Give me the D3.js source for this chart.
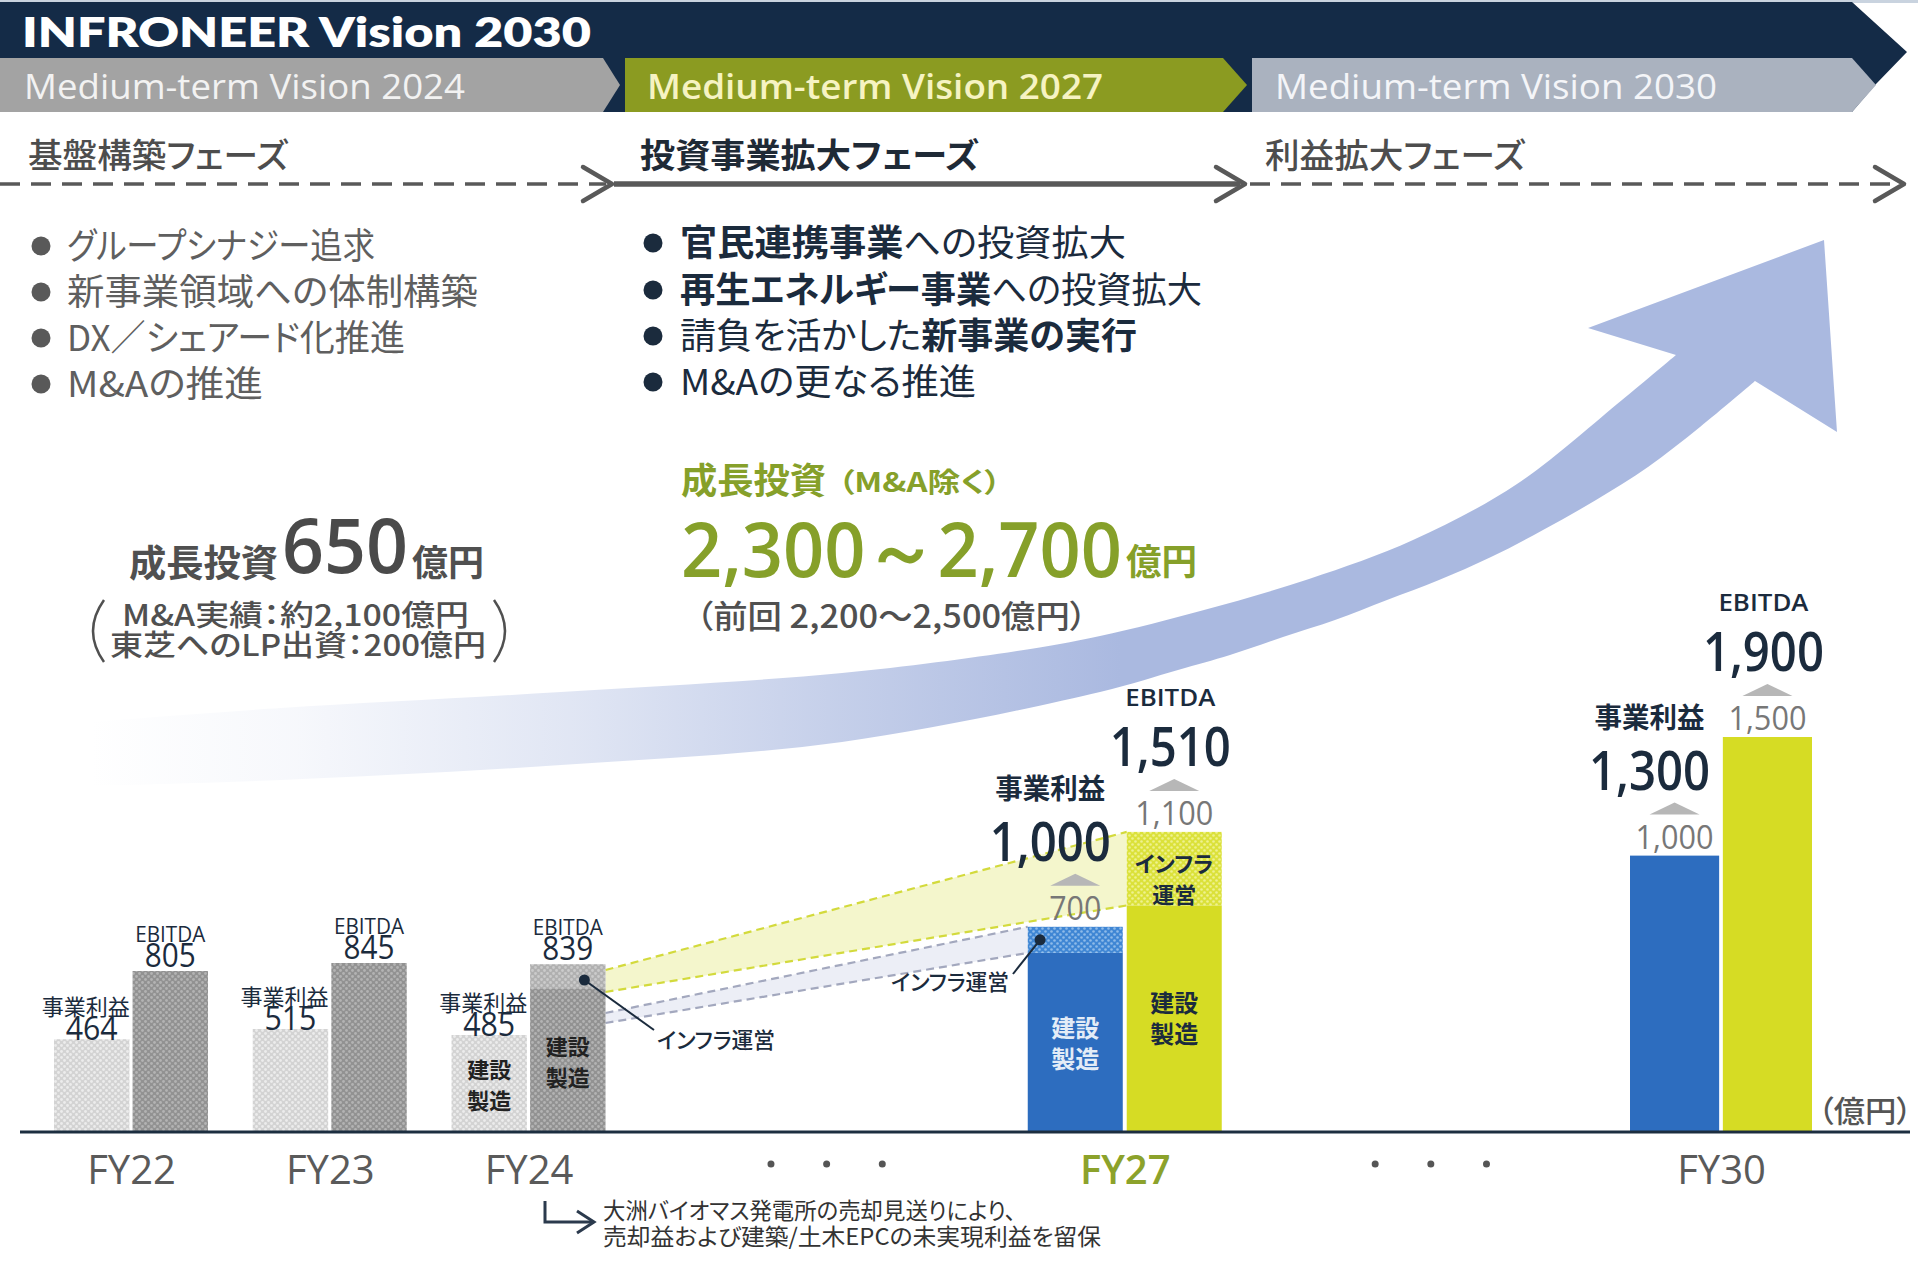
<!DOCTYPE html>
<html lang="ja">
<head>
<meta charset="utf-8">
<title>INFRONEER Vision 2030</title>
<script src="https://cdn.jsdelivr.net/npm/d3@7"></script>
<style>
  body { margin: 0; background: #fff; }
  svg { display: block; }
  .jp { font-family: "Noto Sans CJK JP", "Noto Sans", sans-serif; font-feature-settings: "palt"; }
  .num { font-family: "Open Sans", "Noto Sans", sans-serif; }
</style>
</head>
<body>
<div id="chart"></div>
<script>
// ---- data (億円) ----
var fiscalYears = [22, 23, 24, 27, 30];
var yearLabels = ["FY22", "FY23", "FY24", "FY27", "FY30"];
var isPlan = [false, false, false, true, true];
var opProfit = [464, 515, 485, 700, 1000];        // 事業利益
var ebitda = [805, 845, 839, 1100, 1500];         // EBITDA
var opInfra = [0, 0, 0, 110, 0];                  // インフラ運営 share (estimated)
var ebitdaInfra = [0, 0, 120, 310, 0];
var opTarget = [null, null, null, 1000, 1300];    // upgraded targets
var ebitdaTarget = [null, null, null, 1510, 1900];
var yellowBridge = [[700, 810], [790, 1100]];     // FY24 EBITDA -> FY27 EBITDA infra
var greyBridge = [[545, 595], [590, 700]];        // FY24 -> FY27 事業利益 infra
var ellipsisYears = [25.5, 28.54];

var visions = ["Medium-term Vision 2024", "Medium-term Vision 2027", "Medium-term Vision 2030"];
var phases = ["基盤構築フェーズ", "投資事業拡大フェーズ", "利益拡大フェーズ"];
var leftBullets = ["グループシナジー追求", "新事業領域への体制構築", "DX／シェアード化推進", "M&Aの推進"];
var rightBullets = [
  [["官民連携事業", 1], ["への投資拡大", 0]],
  [["再生エネルギー事業", 1], ["への投資拡大", 0]],
  [["請負を活かした", 0], ["新事業の実行", 1]],
  [["M&Aの更なる推進", 0]]
];

// ---- layout ----
var W = 1918, H = 1274, base = 1132;
var navy = "#142b47", ink = "#1b2b3d", green = "#86a02a";
var groupHalf = [77, 77, 77, 97, 91];   // half width of each bar pair

var svg = d3.select("#chart").append("svg").attr("width", W).attr("height", H);
var defs = svg.append("defs");

function dotPattern(id, bg, dot, size, r) {
  var p = defs.append("pattern").attr("id", id).attr("patternUnits", "userSpaceOnUse")
    .attr("width", size).attr("height", size);
  p.append("rect").attr("width", size).attr("height", size).attr("fill", bg);
  p.append("circle").attr("cx", size / 4).attr("cy", size / 4).attr("r", r).attr("fill", dot);
  p.append("circle").attr("cx", size * 3 / 4).attr("cy", size * 3 / 4).attr("r", r).attr("fill", dot);
}
dotPattern("patOp", "#d3d3d3", "#ececec", 6, 1.4);
dotPattern("patEb", "#929292", "#b3b3b3", 6, 1.4);
dotPattern("patEbInfraA", "#b0b0b0", "#cbcbcb", 6, 1.4);
dotPattern("patOpInfraP", "#3f86d4", "#8ebbe9", 6, 1.3);
dotPattern("patEbInfraP", "#dbe13a", "#eff28e", 6, 1.3);

var grad = defs.append("linearGradient").attr("id", "arrowGrad")
  .attr("gradientUnits", "userSpaceOnUse").attr("x1", 90).attr("x2", 1120).attr("y1", 0).attr("y2", 0);
[[0, 0], [0.2, 0.1], [0.47, 0.36], [0.74, 0.7], [1, 1]].forEach(function(s) {
  grad.append("stop").attr("offset", s[0]).attr("stop-color", "#aab9e0").attr("stop-opacity", s[1]);
});

function label(g, x, y, s, o) {
  o = o || {};
  var t = g.append("text").attr("x", x).attr("y", y)
    .attr("class", o.cls || "jp")
    .attr("font-size", o.size || 24)
    .attr("font-weight", o.weight || 400)
    .attr("fill", o.fill || ink)
    .attr("text-anchor", o.anchor || "start")
    .text(s);
  if (o.len) t.attr("textLength", o.len).attr("lengthAdjust", "spacingAndGlyphs");
  if (o.central) t.attr("dominant-baseline", "central");
  return t;
}

// several stacked lines kept in one text element
function block(g, lines, o) {
  o = o || {};
  var t = g.append("text").attr("class", o.cls || "jp").attr("text-anchor", o.anchor || "start")
    .attr("fill", o.fill || ink).attr("font-size", o.size || 24).attr("font-weight", o.weight || 400);
  lines.forEach(function(l) {
    var sp = t.append("tspan").attr("x", l.x).attr("y", l.y);
    if (l.size) sp.attr("font-size", l.size);
    if (l.weight) sp.attr("font-weight", l.weight);
    if (l.cls) sp.attr("class", l.cls);
    if (l.fill) sp.attr("fill", l.fill);
    if (l.len) sp.attr("textLength", l.len).attr("lengthAdjust", "spacingAndGlyphs");
    if (l.parts) l.parts.forEach(function(p) { sp.append("tspan").attr("font-weight", p[1] ? 700 : 400).text(p[0]); });
    else sp.text(l.s);
  });
  return t;
}

// ---- header band ----
var header = svg.append("g");
header.append("rect").attr("width", W).attr("height", 3).attr("fill", "#c9d3df");
header.append("path").attr("fill", navy)
  .attr("d", d3.line()([[0, 2], [1852, 2], [1907, 52], [1876, 84], [1852, 112], [0, 112]]) + "Z");
var chevrons = [
  { x0: 0, x1: 603, tip: 620, fill: "#a3a3a3", text: "#f2f2f2", tx: 24, len: 441, weight: 400 },
  { x0: 625, x1: 1223, tip: 1247, fill: "#8b9b21", text: "#f6f3c2", tx: 647, len: 456, weight: 600 },
  { x0: 1252, x1: 1852, tip: 1876, fill: "#aab2bf", text: "#f4f5f8", tx: 1275, len: 442, weight: 400 }
];
chevrons.forEach(function(c, i) {
  header.append("path").attr("fill", c.fill)
    .attr("d", d3.line()([[c.x0, 58], [c.x1, 58], [c.tip, 85], [c.x1, 112], [c.x0, 112]]) + "Z");
  label(header, c.tx, 99, visions[i], { cls: "num", size: 34, weight: c.weight, fill: c.text, len: c.len });
});
label(header, 22, 47, "INFRONEER Vision 2030",
  { cls: "num", size: 42, weight: 800, fill: "#ffffff", len: 569 }).style("font-family", "Lato, 'Open Sans', sans-serif");

// ---- phases ----
var ph = svg.append("g");
var phaseX = [28, 640, 1265], phaseLen = [260, 339, 260];
phases.forEach(function(p, i) {
  label(ph, phaseX[i], 153, p, { size: 34, weight: i === 1 ? 700 : 500, fill: i === 1 ? "#1f2a36" : "#4d4d4d", len: phaseLen[i], central: true });
});
ph.append("line").attr("x1", 0).attr("x2", 606).attr("y1", 184).attr("y2", 184)
  .attr("stroke", "#595959").attr("stroke-width", 3.5).attr("stroke-dasharray", "20 11");
ph.append("line").attr("x1", 614).attr("x2", 1240).attr("y1", 184).attr("y2", 184)
  .attr("stroke", "#595959").attr("stroke-width", 5.5);
ph.append("line").attr("x1", 1250).attr("x2", 1900).attr("y1", 184).attr("y2", 184)
  .attr("stroke", "#595959").attr("stroke-width", 3.5).attr("stroke-dasharray", "20 11");
[612, 1245, 1904].forEach(function(tx) {
  ph.append("path").attr("d", d3.line()([[tx - 29, 167], [tx, 184], [tx - 29, 201]]))
    .attr("fill", "none").attr("stroke", "#595959").attr("stroke-width", 4.5)
    .attr("stroke-linecap", "round").attr("stroke-linejoin", "round");
});

// ---- bullets ----
var bl = svg.append("g");
var leftY = [246, 292, 338, 384], leftLen = [308, 411, 338, 196];
leftY.forEach(function(cy) {
  bl.append("circle").attr("cx", 41).attr("cy", cy).attr("r", 9.5).attr("fill", "#595959");
});
block(bl, leftBullets.map(function(b, i) { return { x: 67, y: leftY[i] + 13, s: b, len: leftLen[i] }; }),
  { size: 36, fill: "#5f5f5f" });
var rightY = [243, 290, 336, 382], rightLen = [446, 522, 457, 296];
rightY.forEach(function(cy) {
  bl.append("circle").attr("cx", 653).attr("cy", cy).attr("r", 9.5).attr("fill", ink);
});
block(bl, rightBullets.map(function(p, i) { return { x: 680, y: rightY[i] + 13, parts: p, len: rightLen[i] }; }),
  { size: 36, fill: ink });

// ---- growth arrow ----
var upperEdge = [[90, 722], [281, 708], [561, 692], [842, 673], [1017, 651], [1100, 636], [1204, 610],
  [1309, 579], [1413, 540], [1517, 484], [1622, 400], [1676, 355]];
var arrowHead = [[1588, 328], [1824, 240], [1837, 432], [1755, 381]];
var lowerEdge = [[1755, 381], [1700, 427], [1648, 467], [1596, 500], [1543, 530], [1491, 557], [1439, 580],
  [1387, 600], [1335, 620], [1283, 637], [1230, 655], [1178, 670], [1100, 692], [842, 742], [561, 765],
  [281, 780], [90, 786]];
var edge = d3.line().curve(d3.curveCatmullRom);
var arrowD = edge(upperEdge) + arrowHead.map(function(p) { return "L" + p[0] + "," + p[1]; }).join("") +
  edge(lowerEdge).replace(/^M/, "L") + "Z";
svg.append("path").attr("d", arrowD).attr("fill", "url(#arrowGrad)");

// ---- investment texts ----
var inv = svg.append("g");
label(inv, 129, 577, "成長投資", { size: 37, weight: 700, fill: "#505050", len: 149 });
label(inv, 282, 573, "650", { cls: "num", size: 76, weight: 600, fill: "#4a4a4a", len: 126 });
label(inv, 412, 576, "億円", { size: 36, weight: 700, fill: "#505050", len: 72 });
block(inv, [
  { x: 122, y: 626, s: "M&A実績：約2,100億円", len: 347 },
  { x: 110, y: 656, s: "東芝へのLP出資：200億円", len: 376 }
], { size: 29, weight: 500, fill: "#505050" });
inv.append("path").attr("d", "M104,600 Q82,631 104,662").attr("fill", "none").attr("stroke", "#505050").attr("stroke-width", 2.5);
inv.append("path").attr("d", "M494,600 Q516,631 494,662").attr("fill", "none").attr("stroke", "#505050").attr("stroke-width", 2.5);

label(inv, 681, 494, "成長投資", { size: 36, weight: 700, fill: green, len: 145 });
label(inv, 838, 492, "（M&A除く）", { size: 27, weight: 700, fill: green, len: 163 });
label(inv, 681, 577, "2,300～2,700", { cls: "num", size: 76, weight: 600, fill: green, len: 441 });
label(inv, 1126, 575, "億円", { size: 36, weight: 700, fill: green, len: 71 });
label(inv, 696, 628, "（前回 2,200～2,500億円）", { size: 32, weight: 500, fill: "#505050", len: 391 });

// ---- scales ----
var x = d3.scaleLinear().domain([22, 30]).range([131, 1721]);
var yActual = d3.scaleLinear().domain([0, 1000]).range([base, base - 200]);
var yPlan = d3.scaleLinear().domain([-165, 1500]).range([base, base - 395]);
var inner = d3.scaleBand().domain(["op", "eb"]).paddingInner(0.04);
function yOf(i) { return isPlan[i] ? yPlan : yActual; }
function band(i) { inner.range([-groupHalf[i], groupHalf[i]]); return inner; }
function barX(i, k) { return x(fiscalYears[i]) + band(i)(k); }
function barW(i) { return band(i).bandwidth(); }

// ---- bridges FY24 -> FY27 ----
var br = svg.append("g");
function bridge(fromVals, toVals, toKey, fill, stroke) {
  var x0 = barX(2, "eb") + barW(2), x1 = barX(3, toKey);
  var pts = [[x0, yActual(fromVals[1])], [x1, yPlan(toVals[1])], [x1, yPlan(toVals[0])], [x0, yActual(fromVals[0])]];
  br.append("path").attr("d", d3.line()(pts) + "Z").attr("fill", fill);
  [[pts[0], pts[1]], [pts[3], pts[2]]].forEach(function(l) {
    br.append("path").attr("d", d3.line()(l)).attr("stroke", stroke).attr("stroke-width", 2.2)
      .attr("stroke-dasharray", "8 5").attr("fill", "none");
  });
}
bridge(greyBridge[0], greyBridge[1], "op", "#eceef6", "#a3a8be");
bridge(yellowBridge[0], yellowBridge[1], "eb", "#f4f6cc", "#d3da3c");

// ---- bars ----
var bars = svg.append("g");
fiscalYears.forEach(function(fy, i) {
  var y = yOf(i);
  var series = [
    { k: "op", v: opProfit[i], inf: opInfra[i], fill: isPlan[i] ? "#2d6dbf" : "url(#patOp)", infFill: "url(#patOpInfraP)" },
    { k: "eb", v: ebitda[i], inf: ebitdaInfra[i], fill: isPlan[i] ? "#d6dc24" : "url(#patEb)", infFill: isPlan[i] ? "url(#patEbInfraP)" : "url(#patEbInfraA)" }
  ];
  series.forEach(function(s) {
    var bx = barX(i, s.k), bw = barW(i);
    var mid = y(s.v - s.inf);
    bars.append("rect").attr("x", bx).attr("y", mid).attr("width", bw).attr("height", base - mid).attr("fill", s.fill);
    if (s.inf > 0) {
      bars.append("rect").attr("x", bx).attr("y", y(s.v)).attr("width", bw).attr("height", mid - y(s.v)).attr("fill", s.infFill);
    }
  });
});

// ---- value labels ----
var lb = svg.append("g");
var fmt = d3.format(",");
fiscalYears.forEach(function(fy, i) {
  var y = yOf(i), bw = barW(i);
  var cOp = barX(i, "op") + bw / 2, cEb = barX(i, "eb") + bw / 2;
  var tOp = y(opProfit[i]), tEb = y(ebitda[i]);
  if (!isPlan[i]) {
    block(lb, [
      { x: cOp - 6, y: tOp - 24, s: "事業利益", size: 22, len: 88 },
      { x: cOp, y: tOp + 1, s: String(opProfit[i]), size: 32, cls: "num", len: 52 }
    ], { anchor: "middle" });
    block(lb, [
      { x: cEb, y: tEb - 29, s: "EBITDA", size: 22, len: 70 },
      { x: cEb, y: tEb - 4, s: String(ebitda[i]), size: 32, len: 51 }
    ], { anchor: "middle", cls: "num" });
  } else {
    [[cOp, tOp, opProfit[i], opTarget[i], "事業利益", -25], [cEb, tEb, ebitda[i], ebitdaTarget[i], "EBITDA", -4]].forEach(function(d) {
      var c = d[0], t = d[1], isEb = d[4] === "EBITDA";
      label(lb, c, t - 7, fmt(d[2]), { cls: "num", size: 33, fill: "#777777", anchor: "middle", len: d[2] >= 1000 ? 78 : 52 });
      lb.append("path").attr("d", d3.line()([[c - 25, t - 41], [c, t - 53], [c + 25, t - 41]]) + "Z").attr("fill", "#b7b7b7");
      block(lb, [
        isEb ? { x: c + d[5], y: t - 126, s: "EBITDA", size: 24, len: 90, cls: "num" }
             : { x: c + d[5], y: t - 128, s: "事業利益", size: 28, weight: 700, len: 110 },
        { x: c + d[5], y: t - 66, s: fmt(d[3]), size: 54, cls: "num", len: 121 }
      ], { anchor: "middle", weight: 600 });
    });
  }
});

// in-bar segment labels
function stackLabel(cx, cy, lines, fill, size) {
  block(lb, lines.map(function(s, j) { return { x: cx, y: cy + j * 31 + size * 0.38, s: s }; }),
    { anchor: "middle", fill: fill, size: size, weight: 700 });
}
stackLabel(barX(2, "op") + barW(2) / 2, 1070, ["建設", "製造"], "#222222", 22);
stackLabel(barX(2, "eb") + barW(2) / 2, 1047, ["建設", "製造"], "#222222", 22);
stackLabel(barX(3, "op") + barW(3) / 2, 1028, ["建設", "製造"], "#e3ecf7", 24);
stackLabel(barX(3, "eb") + barW(3) / 2, 1003, ["建設", "製造"], "#1b2b3d", 24);
stackLabel(barX(3, "eb") + barW(3) / 2, 864, ["インフラ", "運営"], "#1b2b3d", 22);

// leaders to インフラ運営
var lead = [
  { px: barX(2, "eb") + barW(2) * 0.72, py: yActual(760), lx: 654, ly: 1030, tx: 657, ty: 1038, anchor: "start" },
  { px: barX(3, "op") + barW(3) * 0.13, py: yPlan(645), lx: 1013, ly: 974, tx: 1009, ty: 980, anchor: "end" }
];
lead.forEach(function(l) {
  lb.append("line").attr("x1", l.px).attr("y1", l.py).attr("x2", l.lx).attr("y2", l.ly).attr("stroke", ink).attr("stroke-width", 2);
  lb.append("circle").attr("cx", l.px).attr("cy", l.py).attr("r", 5.5).attr("fill", ink);
  label(lb, l.tx, l.ty, "インフラ運営", { size: 22, weight: 500, fill: ink, anchor: l.anchor, len: 118, central: true });
});

// ---- axis ----
svg.append("line").attr("x1", 20).attr("x2", 1910).attr("y1", base).attr("y2", base)
  .attr("stroke", "#1c2e40").attr("stroke-width", 3);
var xAxis = d3.axisBottom(x).tickValues(fiscalYears).tickSize(0)
  .tickFormat(function(d) { return yearLabels[fiscalYears.indexOf(d)]; });
var ax = svg.append("g").attr("transform", "translate(0," + base + ")").call(xAxis);
ax.select(".domain").remove();
ax.selectAll("text").attr("y", 52).attr("dy", null)
  .attr("font-family", "'Open Sans', 'Noto Sans', sans-serif").attr("font-size", 40)
  .attr("fill", function(d) { return d === 27 ? "#8ca22b" : "#5a5a5a"; })
  .attr("font-weight", function(d) { return d === 27 ? 600 : 400; });

ellipsisYears.forEach(function(c) {
  [-0.28, 0, 0.28].forEach(function(o) {
    svg.append("circle").attr("cx", x(c + o)).attr("cy", 1164).attr("r", 3.5).attr("fill", "#555555");
  });
});
label(svg, 1912, 1122, "（億円）", { size: 30, weight: 500, fill: "#555555", anchor: "end", len: 94 });

// ---- footnote ----
var fn = svg.append("g");
fn.append("path").attr("d", "M545,1201 V1222 H592").attr("fill", "none").attr("stroke", "#2b3a4d").attr("stroke-width", 3);
fn.append("path").attr("d", "M577,1211 L594,1222 L577,1233").attr("fill", "none").attr("stroke", "#2b3a4d").attr("stroke-width", 3);
block(fn, [
  { x: 603, y: 1219, s: "大洲バイオマス発電所の売却見送りにより、", len: 413 },
  { x: 603, y: 1245, s: "売却益および建築/土木EPCの未実現利益を留保", len: 498 }
], { size: 23, fill: "#333333" });
</script>
</body>
</html>
